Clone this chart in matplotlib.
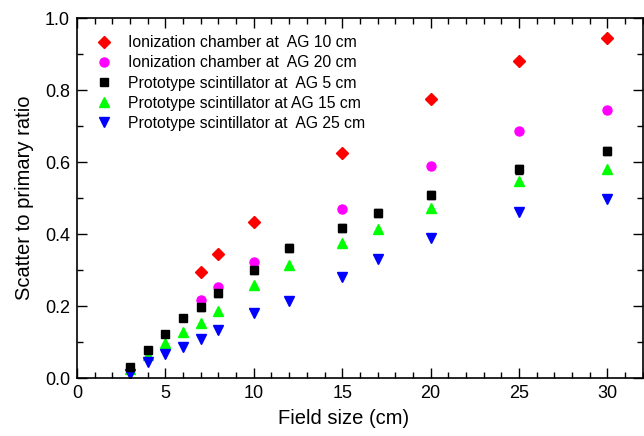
import numpy as np
import matplotlib
matplotlib.use("Agg")
from matplotlib import pyplot as plt
from matplotlib.lines import Line2D
from matplotlib.ticker import MultipleLocator, FormatStrFormatter

plt.rcParams["font.family"] = ["Liberation Sans", "DejaVu Sans"]

# field sizes (cm)
fs_ic = [7, 8, 10, 15, 20, 25, 30]
fs_sc = [3, 4, 5, 6, 7, 8, 10, 12, 15, 17, 20, 25, 30]

# ionization chamber
ic_ag10 = [0.294, 0.344, 0.432, 0.626, 0.774, 0.881, 0.944]
ic_ag20 = [0.217, 0.252, 0.321, 0.470, 0.589, 0.685, 0.744]

# prototype scintillator
sc_ag5 = [0.030, 0.077, 0.122, 0.166, 0.196, 0.235, 0.299, 0.361, 0.417, 0.459, 0.508, 0.580, 0.631]
sc_ag5_err = [0.006, 0.007, 0.008, 0.009, 0.010, 0.010, 0.010, 0.011, 0.011, 0.011, 0.012, 0.012, 0.012]
sc_ag15 = [0.025, 0.063, 0.096, 0.129, 0.154, 0.187, 0.259, 0.315, 0.376, 0.415, 0.471, 0.547, 0.581]
sc_ag25 = [0.011, 0.044, 0.067, 0.085, 0.107, 0.133, 0.180, 0.214, 0.281, 0.331, 0.388, 0.461, 0.497]

labels = [
    "Ionization chamber at  AG 10 cm",
    "Ionization chamber at  AG 20 cm",
    "Prototype scintillator at  AG 5 cm",
    "Prototype scintillator at AG 15 cm",
    "Prototype scintillator at  AG 25 cm",
]

fig = plt.figure(figsize=(6.44, 4.36), dpi=100)
ax = fig.add_axes([0.1196, 0.133, 0.8784, 0.8257])

h1, = ax.plot(fs_ic, ic_ag10, "D", color="#ff0000", ms=6, ls="none")
h2, = ax.plot(fs_ic, ic_ag20, "o", color="#ff00ff", ms=6.5, ls="none")
ax.errorbar(fs_sc, sc_ag5, yerr=sc_ag5_err, fmt="s", color="black", ms=5.5,
            capsize=3, elinewidth=1, capthick=1)
h4, = ax.plot(fs_sc, sc_ag15, "^", color="#00ff00", ms=7, ls="none")
h5, = ax.plot(fs_sc, sc_ag25, "v", color="#0000ff", ms=7, ls="none")
# plain square for the legend entry (no error bar in the key)
h3 = Line2D([], [], marker="s", color="black", ms=5.5, ls="none")

ax.set_xlim(0, 32)
ax.set_ylim(0, 1.0)
ax.xaxis.set_major_locator(MultipleLocator(5))
ax.xaxis.set_minor_locator(MultipleLocator(1))
ax.yaxis.set_major_locator(MultipleLocator(0.2))
ax.yaxis.set_minor_locator(MultipleLocator(0.1))
ax.yaxis.set_major_formatter(FormatStrFormatter("%.1f"))
ax.tick_params(which="both", direction="in", top=True, right=True, labelsize=13, width=1)
ax.tick_params(which="major", length=7, pad=5)
ax.tick_params(which="minor", length=4)
for sp in ax.spines.values():
    sp.set_linewidth(1.2)

ax.set_xlabel("Field size (cm)", fontsize=14.5, labelpad=5)
ax.xaxis.set_label_coords(0.472, -0.085)
ax.set_ylabel("Scatter to primary ratio", fontsize=14.5, labelpad=8)

ax.legend([h1, h2, h3, h4, h5], labels, loc="upper left", frameon=False, fontsize=11.3,
          handletextpad=0.95, labelspacing=0.33, handlelength=1.2,
          borderaxespad=0.7, borderpad=0.4)

fig.savefig("out.png", dpi=100)
